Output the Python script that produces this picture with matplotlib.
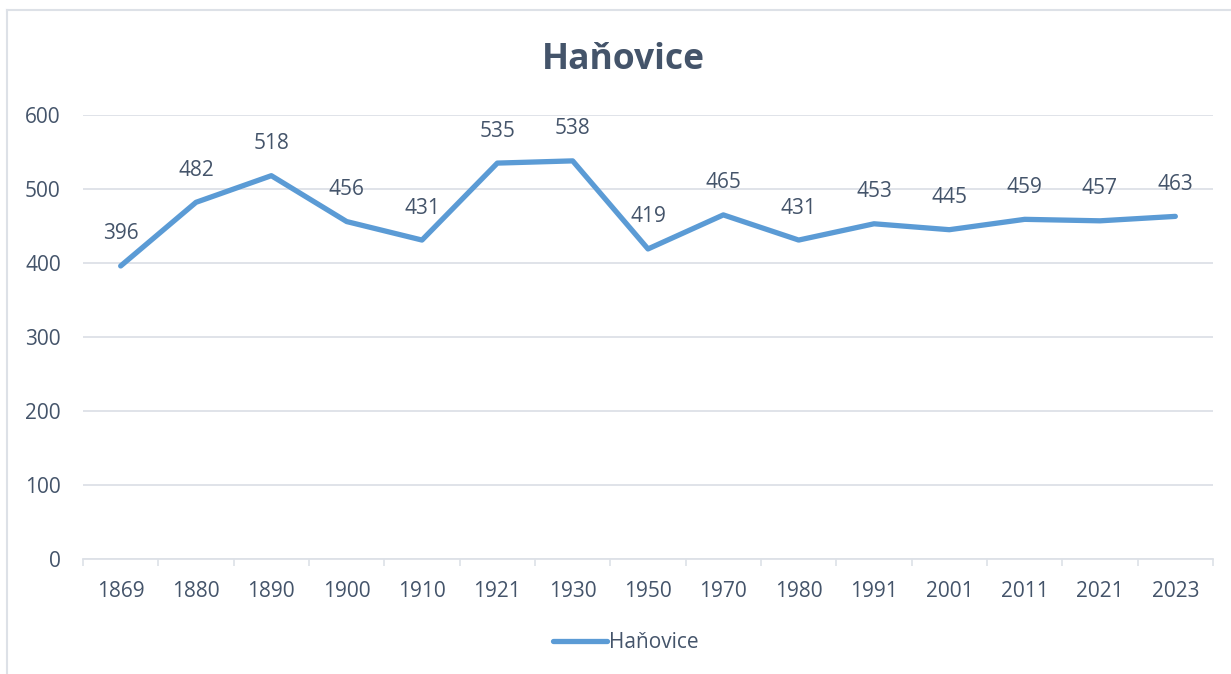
import matplotlib.pyplot as plt
from matplotlib.lines import Line2D

# population of Haňovice by census year
years = ['1869', '1880', '1890', '1900', '1910', '1921', '1930', '1950',
         '1970', '1980', '1991', '2001', '2011', '2021', '2023']
population = [396, 482, 518, 456, 431, 535, 538, 419, 465, 431, 453, 445, 459, 457, 463]
y_ticks = [0, 100, 200, 300, 400, 500, 600]

TEXT = '#44546A'
LINE = '#5B9BD5'
GRID = '#DDE1E7'
FS = 15

plt.rcParams['font.family'] = ['Open Sans', 'DejaVu Sans']

W, H = 1231, 674
fig = plt.figure(figsize=(W / 100, H / 100), dpi=100)
ax = fig.add_axes([83 / W, 1 - 559 / H, (1213 - 83) / W, (559 - 115) / H])

x = [i + 0.5 for i in range(len(years))]
ax.plot(x, population, color=LINE, lw=3.8, solid_capstyle='round',
        solid_joinstyle='round', label='Haňovice', zorder=3)

for xi, v in zip(x, population):
    ax.annotate(str(v), (xi, v), xytext=(0, 32), textcoords='offset pixels',
                ha='center', va='center', fontsize=FS, color=TEXT)

ax.set_xlim(0, len(years))
ax.set_ylim(0, 600)
ax.set_yticks(y_ticks)
ax.set_xticks(x)
ax.set_xticklabels(years)
ax.set_xticks(range(len(years) + 1), minor=True)
ax.tick_params(axis='x', which='major', length=0, pad=16, labelsize=FS, labelcolor=TEXT)
ax.tick_params(axis='x', which='minor', length=5, width=1.2, color=GRID, direction='out')
ax.tick_params(axis='y', length=0, pad=16, labelsize=FS, labelcolor=TEXT)

ax.grid(axis='y', color=GRID, lw=1.3)
ax.set_axisbelow(True)
for side in ['top', 'right', 'left']:
    ax.spines[side].set_visible(False)
ax.spines['bottom'].set_color(GRID)
ax.spines['bottom'].set_linewidth(1.3)

fig.text(623 / W, 1 - 60 / H, 'Haňovice', ha='center', va='center',
         fontsize=25.5, fontweight='bold', color=TEXT)

leg = fig.legend(loc='center', bbox_to_anchor=(626 / W, 1 - 643 / H), frameon=False,
                 fontsize=FS, handlelength=2.6, handletextpad=0.1)
for t in leg.get_texts():
    t.set_color(TEXT)

# chart frame (left and top edges visible)
fig.add_artist(Line2D([7 / W, 7 / W], [0, 1 - 10 / H], color=GRID, lw=1.5))
fig.add_artist(Line2D([7 / W, 1], [1 - 10 / H, 1 - 10 / H], color=GRID, lw=1.5))

fig.savefig('out.png', dpi=100)
